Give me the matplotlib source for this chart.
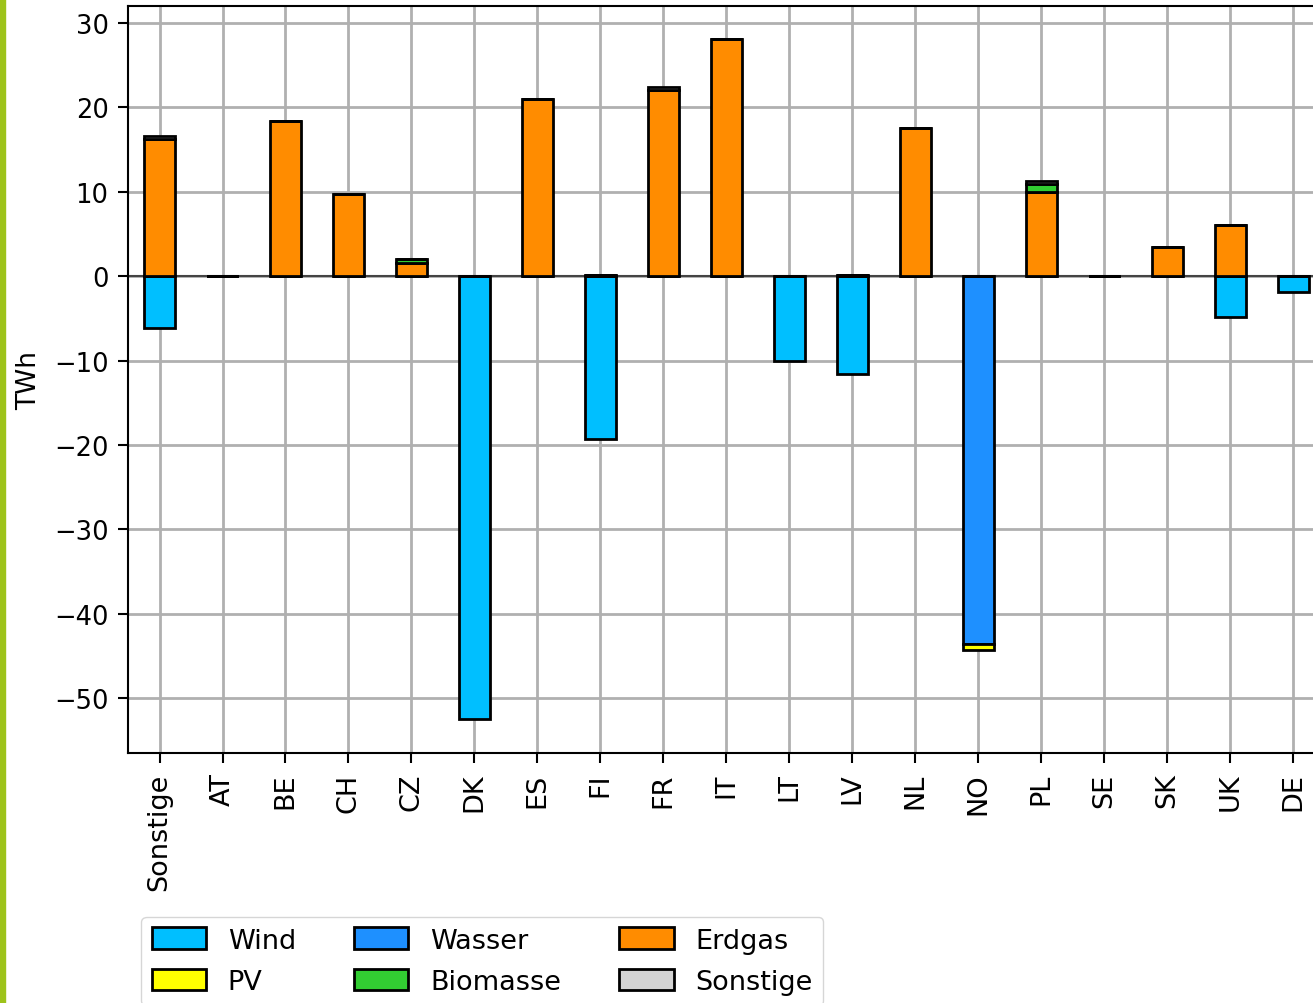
import matplotlib
matplotlib.use("Agg")
import matplotlib.pyplot as plt
import numpy as np
from matplotlib.patches import Rectangle

countries = ["Sonstige", "AT", "BE", "CH", "CZ", "DK", "ES", "FI", "FR", "IT",
             "LT", "LV", "NL", "NO", "PL", "SE", "SK", "UK", "DE"]

wind     = [-6.2, 0.0, 0.0, 0.0, 0.0, -52.5, 0.0, -19.3, 0.0, 0.0,
            -10.1, -11.6, 0.0, 0.0, 0.0, 0.0, 0.0, -4.9, -1.9]
wasser   = [0.0, 0.0, 0.0, 0.0, 0.0, 0.0, 0.0, 0.0, 0.0, 0.0,
            0.0, 0.0, 0.0, -43.6, 0.0, 0.0, 0.0, 0.0, 0.0]
erdgas   = [16.2, 0.0, 18.4, 9.7, 1.6, 0.0, 21.0, 0.15, 22.1, 28.1,
            0.0, 0.15, 17.6, 0.0, 10.0, 0.0, 3.5, 6.1, 0.0]
pv       = [0.0, 0.0, 0.0, 0.0, 0.0, 0.0, 0.0, 0.0, 0.0, 0.0,
            0.0, 0.0, 0.0, -0.7, 0.0, 0.0, 0.0, 0.0, 0.0]
biomasse = [0.0, 0.0, 0.0, 0.0, 0.4, 0.0, 0.0, 0.0, 0.0, 0.0,
            0.0, 0.0, 0.0, 0.0, 0.95, 0.0, 0.0, 0.0, 0.0]
sonstige = [0.4, 0.05, 0.0, 0.0, 0.05, 0.0, 0.0, 0.0, 0.25, 0.0,
            0.0, 0.0, 0.0, 0.0, 0.3, 0.05, 0.0, 0.0, 0.0]

series = [("Wind", wind, "#00BFFF"),
          ("Wasser", wasser, "#1E90FF"),
          ("Erdgas", erdgas, "#FF8C00"),
          ("PV", pv, "#FFFF00"),
          ("Biomasse", biomasse, "#32CD32"),
          ("Sonstige", sonstige, "#D3D3D3")]

fig = plt.figure(figsize=(13.13, 10.04), dpi=100)
ax = fig.add_axes([0.0975, 0.249, 1.009 - 0.0975, 0.993 - 0.249])

x = np.arange(len(countries))
pos_base = np.zeros(len(countries))
neg_base = np.zeros(len(countries))
handles = {}
for name, vals, col in series:
    v = np.array(vals, dtype=float)
    bottoms = np.where(v >= 0, pos_base, neg_base)
    bars = ax.bar(x, v, 0.5, bottom=bottoms, color=col, edgecolor="black",
                  linewidth=2, label=name, zorder=3)
    handles[name] = bars
    pos_base = pos_base + np.where(v > 0, v, 0)
    neg_base = neg_base + np.where(v < 0, v, 0)

ax.axhline(0, color="#444444", linewidth=1.5, zorder=2)
ax.set_xlim(-0.5, len(countries) - 0.5)
ax.set_ylim(-56.5, 32.0)
ax.set_yticks([30, 20, 10, 0, -10, -20, -30, -40, -50])
ax.set_xticks(x)
ax.set_xticklabels(countries, rotation=90, fontsize=19.5)
ax.tick_params(axis="y", labelsize=18.5, width=1.5, length=7, pad=7)
ax.tick_params(axis="x", width=1.5, length=7, pad=7)
ax.grid(True, color="#b0b0b0", linewidth=2, zorder=0)
ax.set_axisbelow(True)
for s in ax.spines.values():
    s.set_linewidth(1.5)
ax.set_ylabel("TWh", fontsize=19)
ax.yaxis.set_label_coords(-0.072, 0.5)

order = ["Wind", "PV", "Wasser", "Biomasse", "Erdgas", "Sonstige"]
fig.legend([handles[n] for n in order], order, ncol=3, fontsize=19.5,
           loc="upper left", bbox_to_anchor=(0.1075, 0.086),
           bbox_transform=fig.transFigure, borderaxespad=0,
           handlelength=2.0, handleheight=0.85, columnspacing=2.15,
           labelspacing=0.55)

fig.add_artist(Rectangle((0, 0), 5 / 1313, 1, transform=fig.transFigure,
                         color="#9DC31A", zorder=10))

fig.savefig("out.png", dpi=100)
